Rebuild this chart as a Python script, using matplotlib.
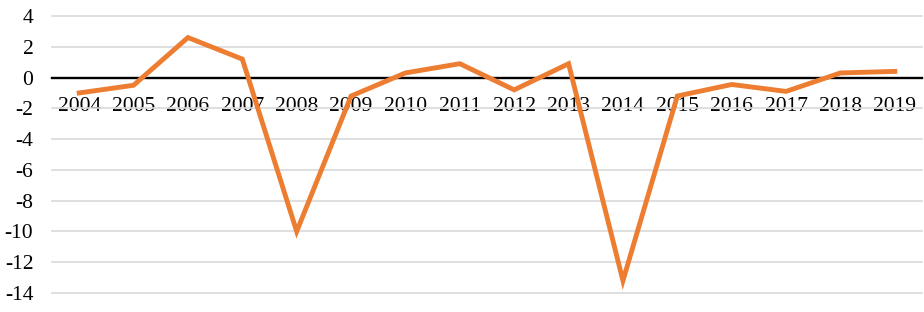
import matplotlib
matplotlib.use("Agg")
import matplotlib.pyplot as plt

years = ["2004", "2005", "2006", "2007", "2008", "2009", "2010", "2011",
         "2012", "2013", "2014", "2015", "2016", "2017", "2018", "2019"]
values = [-1.0, -0.5, 2.6, 1.2, -10.0, -1.2, 0.3, 0.9,
          -0.8, 0.9, -13.2, -1.2, -0.45, -0.9, 0.3, 0.4]
yticks = [4, 2, 0, -2, -4, -6, -8, -10, -12, -14]

plt.rcParams['font.family'] = ['Liberation Serif', 'DejaVu Serif']

fig = plt.figure(figsize=(9.24, 3.12), dpi=100)
ax = fig.add_axes([52/924, 1 - 293/312, 870/924, 277/312])

x = list(range(len(years)))
ax.plot(x, values, color='#ED7D31', lw=3.5, solid_joinstyle='miter', zorder=3)

ax.set_xlim(-0.5, len(years) - 0.5)
ax.set_ylim(-14, 4)
ax.set_yticks(yticks)
ax.set_yticklabels([str(t) for t in yticks])
ax.yaxis.grid(True, color='#d9d9d9', lw=1.2)
for gl in ax.get_ygridlines():
    gl.set_clip_on(False)
ax.set_axisbelow(True)

for s in ['top', 'right', 'left']:
    ax.spines[s].set_visible(False)
ax.spines['bottom'].set_position(('data', 0))
ax.spines['bottom'].set_color('black')
ax.spines['bottom'].set_linewidth(1.7)
ax.spines['bottom'].set_zorder(2)

ax.set_xticks(x)
ax.set_xticklabels(years)
ax.tick_params(axis='x', length=0, pad=14, labelsize=15.5)
ax.tick_params(axis='y', length=0, pad=13.5, labelsize=15.5)

fig.savefig('out.png', dpi=100)
